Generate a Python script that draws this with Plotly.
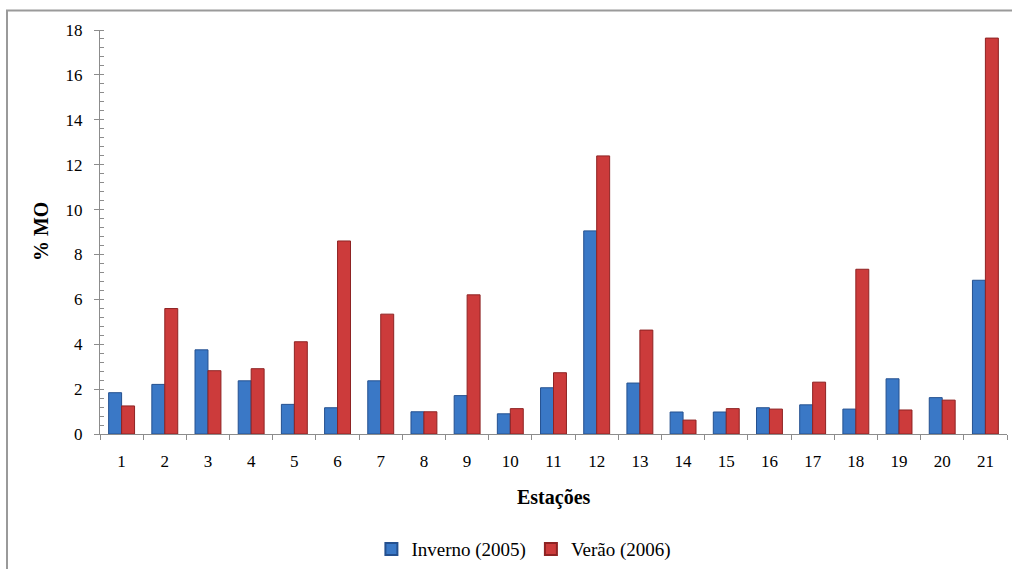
import plotly.graph_objects as go

# Stations (1-21) and organic matter content (%) per campaign
estacoes = [str(i) for i in range(1, 22)]
inverno_2005 = [1.84, 2.21, 3.75, 2.37, 1.32, 1.17, 2.37, 0.99, 1.71, 0.90, 2.06,
                9.05, 2.27, 0.98, 0.98, 1.17, 1.30, 1.11, 2.46, 1.62, 6.85]
verao_2006 = [1.25, 5.59, 2.82, 2.91, 4.11, 8.60, 5.34, 0.99, 6.20, 1.13, 2.73,
              12.39, 4.63, 0.62, 1.13, 1.11, 2.31, 7.34, 1.07, 1.51, 17.64]
y_ticks = [0, 2, 4, 6, 8, 10, 12, 14, 16, 18]

FONT = "Liberation Serif, Times New Roman, serif"
AXIS_GREY = "#8c8c8c"

fig = go.Figure()
fig.add_trace(go.Bar(
    x=estacoes, y=inverno_2005, name="Inverno (2005)",
    marker=dict(color="#3a78c6", line=dict(color="#24508f", width=1)),
))
fig.add_trace(go.Bar(
    x=estacoes, y=verao_2006, name="Verão (2006)",
    marker=dict(color="#cc3b3b", line=dict(color="#8e2323", width=1)),
))

fig.update_layout(
    width=1012, height=569,
    margin=dict(l=100, r=5, t=30, b=135),
    paper_bgcolor="white", plot_bgcolor="white",
    barmode="group", bargap=0.4, bargroupgap=0.0,
    font=dict(family=FONT, size=17, color="black"),
    showlegend=True,
    legend=dict(orientation="h", xref="container", yref="container",
                x=0.367, xanchor="left", y=0.035, yanchor="middle",
                font=dict(family=FONT, size=19), traceorder="normal",
                itemwidth=30, itemsizing="constant"),
    xaxis=dict(
        type="category", showline=True, linecolor=AXIS_GREY, linewidth=1,
        ticks="outside", tickson="boundaries", ticklen=5, tickcolor=AXIS_GREY,
        showgrid=False, tickfont=dict(family=FONT, size=17), ticklabelstandoff=12,
        automargin=False,
    ),
    yaxis=dict(
        range=[0, 18], tickvals=y_ticks, showline=True, linecolor=AXIS_GREY,
        linewidth=1, ticks="outside", ticklen=5, tickcolor=AXIS_GREY,
        showgrid=False, zeroline=False, tickfont=dict(family=FONT, size=17),
        ticklabelstandoff=8, automargin=False,
        minor=dict(dtick=0.4, ticks="inside", ticklen=4, tickcolor=AXIS_GREY, showgrid=False),
    ),
    annotations=[
        dict(text="<b>% MO</b>", xref="paper", yref="paper", x=-0.065, y=0.5,
             xanchor="center", yanchor="middle",
             textangle=-90, showarrow=False, font=dict(family=FONT, size=20)),
        dict(text="<b>Estações</b>", xref="paper", yref="paper", x=0.5, y=-0.158,
             xanchor="center", yanchor="middle",
             showarrow=False, font=dict(family=FONT, size=20)),
    ],
    shapes=[
        dict(type="rect", xref="paper", yref="paper",
             x0=(7 - 100) / 907, x1=1.02, y0=-0.5, y1=(434 - 10) / 404.5,
             line=dict(color="#9a9a9a", width=2), fillcolor="rgba(0,0,0,0)", layer="below"),
    ],
)

fig.write_html("out.html")
